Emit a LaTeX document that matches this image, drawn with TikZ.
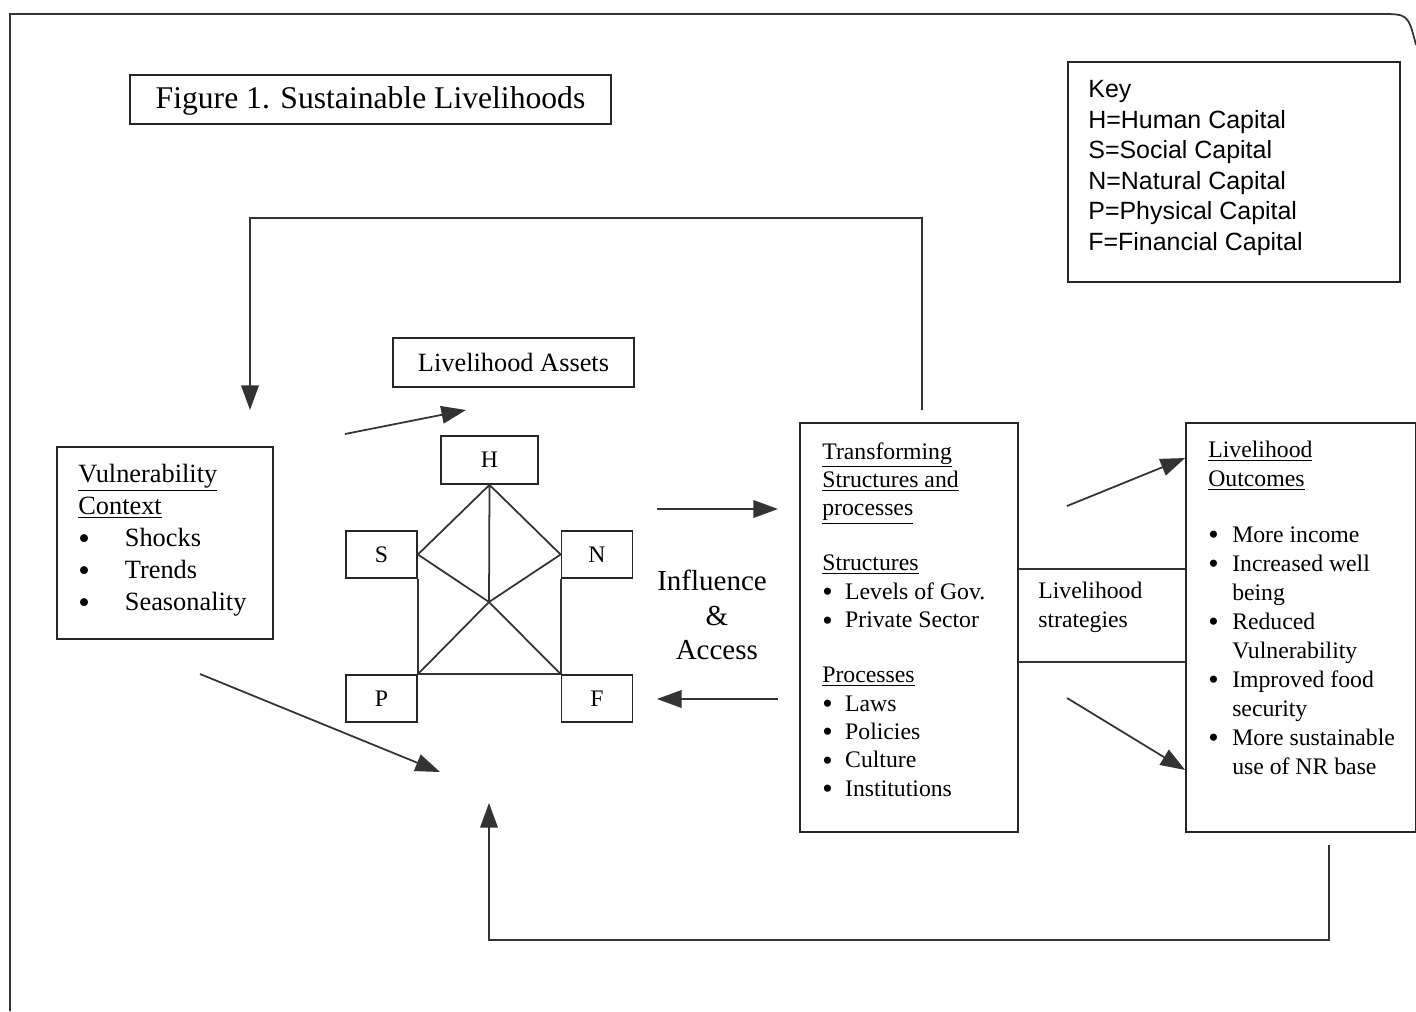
\documentclass[tikz,border=0pt]{standalone}
\usepackage{fontspec}
\setmainfont{Liberation Serif}
\newfontfamily\keyfont{Liberation Sans}
\usetikzlibrary{arrows.meta}

\newcommand{\puce}[2][13pt]{\makebox[#1][l]{\raisebox{-0.22ex}{\scalebox{1.25}{\textbullet}}}#2}

\begin{document}
\begin{tikzpicture}[x=0.02cm, y=-0.02cm,
    boite/.style  = {draw=black!85, line width=1pt, inner sep=0pt},
    lettre/.style = {boite, minimum width=1.42cm, minimum height=0.94cm, font=\fontsize{13.5}{15}\selectfont},
    texte/.style  = {inner sep=0pt, align=left, anchor=north west},
    trait/.style  = {black!80, line width=1pt},
    fleche/.style = {trait, -{Triangle[length=14pt, width=10pt]}}]

  \useasboundingbox (0,0) rectangle (1416,1011);

  % cadre
  \draw[trait] (10,1011) -- (10,14) -- (1380,14) .. controls (1408,14) .. (1416,45);

  \node[boite, minimum width=9.62cm, minimum height=0.98cm, text depth=2pt, font=\fontsize{18}{21}\selectfont] (titre) at (370.5,99.5) {Figure 1. Sustainable Livelihoods};

  \node[boite, minimum width=6.64cm, minimum height=4.4cm] (key) at (1234,172) {};
  \node[texte, font=\keyfont\fontsize{14.2}{17.4}\selectfont] (keytxt) at (1088,80) {Key\\H=Human Capital\\S=Social Capital\\N=Natural Capital\\P=Physical Capital\\F=Financial Capital};

  \node[boite, minimum width=4.82cm, minimum height=0.98cm, font=\fontsize{15}{18}\selectfont] (assets) at (513.5,362.5) {Livelihood Assets};

  % vulnerability
  \node[boite, minimum width=4.32cm, minimum height=3.84cm] (vul) at (165,543) {};
  \node[texte, font=\fontsize{15}{18.2}\selectfont] (vultxt) at (78,464) {\underline{Vulnerability}\\\underline{Context}\\\puce[26.5pt]{Shocks}\\\puce[26.5pt]{Trends}\\\puce[26.5pt]{Seasonality}};

  % les capitaux
  \node[boite, minimum width=1.94cm, minimum height=0.96cm, font=\fontsize{13.5}{15}\selectfont] (H) at (489.5,460) {H};
  \node[lettre] (S) at (381.5,554.5) {S};
  \node[lettre] (N) at (597,554.5) {N};
  \node[lettre] (P) at (381.5,698.5) {P};
  \node[lettre] (F) at (597,698.5) {F};
  \coordinate (X) at (489,602);

  \draw[trait] (H.south) -- (S.east) (H.south) -- (N.west) (H.south) -- (X);
  \draw[trait] (S.east) -- (X) -- (F.north west);
  \draw[trait] (N.west) -- (X) -- (P.north east);
  \draw[trait] (S.south east) -- (P.north east) -- (F.north west) -- (N.south west);

  \node[align=center, inner sep=0pt, font=\fontsize{16.5}{19.5}\selectfont] (infl) at (712,615) {Influence\\\,\,\&\\\,\,Access};

  % transforming structures
  \node[boite, minimum width=4.36cm, minimum height=8.18cm] (trans) at (909,627.5) {};
  \node[texte, font=\fontsize{13.5}{16.2}\selectfont] (transtxt) at (822,442) {\underline{Transforming}\\\underline{Structures and}\\\underline{processes}\\[15pt]\underline{Structures}\\\puce{Levels of Gov.}\\\puce{Private Sector}\\[15pt]\underline{Processes}\\\puce{Laws}\\\puce{Policies}\\\puce{Culture}\\\puce{Institutions}};

  % outcomes
  \node[boite, minimum width=4.6cm, minimum height=8.18cm] (outc) at (1301,627.5) {};
  \node[texte, font=\fontsize{13.5}{16.5}\selectfont] (outctxt) at (1208,441) {\underline{Livelihood}\\\underline{Outcomes}\\[15pt]\puce[13.6pt]{More income}\\\puce[13.6pt]{Increased well}\\\hspace*{13.6pt}being\\\puce[13.6pt]{Reduced}\\\hspace*{13.6pt}Vulnerability\\\puce[13.6pt]{Improved food}\\\hspace*{13.6pt}security\\\puce[13.6pt]{More sustainable}\\\hspace*{13.6pt}use of NR base};

  % strategies
  \draw[trait] (trans.east |- 0,569) -- (outc.west |- 0,569);
  \draw[trait] (trans.east |- 0,662) -- (outc.west |- 0,662);
  \node[inner sep=0pt, align=left, anchor=west, font=\fontsize{13.5}{16.5}\selectfont] (strat) at (1038,607) {Livelihood\\strategies};

  % fleches
  \coordinate (rh) at (922,410);
  \coordinate (rhfin) at (250,410);
  \draw[fleche] (rh) |- (250,218) -- (rhfin);

  \coordinate (rb) at (1329,845);
  \coordinate (rbfin) at (489,803);
  \draw[fleche] (rb) |- (489,940) -- (rbfin);

  \coordinate (a1) at (345,434);
  \coordinate (a1fin) at (466,410);
  \draw[fleche] (a1) -- (a1fin);

  \coordinate (a2) at (200,674);
  \coordinate (a2fin) at (440,772);
  \draw[fleche] (a2) -- (a2fin);

  \coordinate (a3) at (657,509);
  \coordinate (a3fin) at (778,509);
  \draw[fleche] (a3) -- (a3fin);

  \coordinate (a4) at (778,699);
  \coordinate (a4fin) at (657,699);
  \draw[fleche] (a4) -- (a4fin);

  \coordinate (a5) at (1067,506);
  \coordinate (a6) at (1067,698);
  \draw[fleche] (a5) -- (outc.west |- 0,458);
  \draw[fleche] (a6) -- (outc.west |- 0,770);

\end{tikzpicture}
\end{document}
